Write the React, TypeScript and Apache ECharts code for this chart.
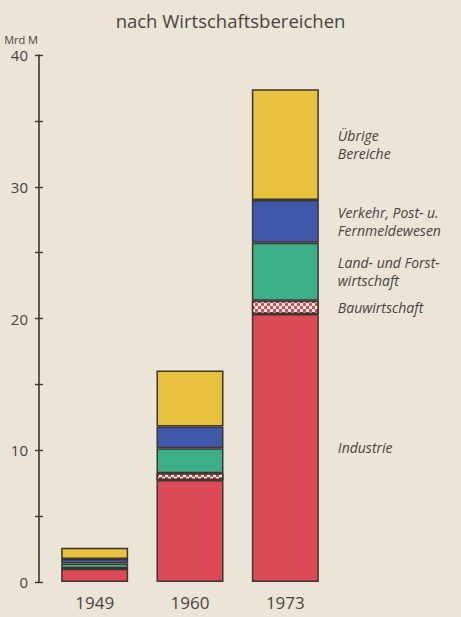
import React, { useEffect, useRef } from "react";
import * as echarts from "echarts";

const years = ["1949", "1960", "1973"];
const industrie = [1.0, 7.75, 20.35];
const bauwirtschaft = [0.05, 0.5, 1.0];
const landForst = [0.35, 1.9, 4.4];
const verkehr = [0.35, 1.65, 3.25];
const uebrige = [0.85, 4.25, 8.4];
const seriesNames = [
  "Industrie",
  "Bauwirtschaft",
  "Land- und Forst-\nwirtschaft",
  "Verkehr, Post- u.\nFernmeldewesen",
  "Übrige\nBereiche",
];
const yTicks = [0, 10, 20, 30, 40];

const FONT = "Open Sans";
const INK = "#4a4242";
const BORDER = "#3e3430";

export default function App() {
  const ref = useRef<HTMLDivElement>(null);
  useEffect(() => {
    if (!ref.current) return;
    const chart = echarts.init(ref.current, undefined, { renderer: "svg" });
    const colors = ["#dc4a58", "#dc4a58", "#3caf88", "#4058aa", "#e8c23e"];
    const values = [industrie, bauwirtschaft, landForst, verkehr, uebrige];
    const series: any[] = values.map((vals, si) => ({
      type: "bar",
      name: seriesNames[si],
      stack: "total",
      barWidth: 67,
      itemStyle: {
        color: colors[si],
        borderColor: BORDER,
        borderWidth: 1.5,
        decal:
          si === 1
            ? {
                symbol: "rect",
                symbolSize: 1,
                color: "#f3eee4",
                dashArrayX: [
                  [3, 3],
                  [0, 3, 3, 0],
                ],
                dashArrayY: [3, 0],
              }
            : "none",
      },
      data: vals.map((v, i) =>
        i === 2
          ? {
              value: v,
              label: {
                show: true,
                position: "right",
                distance: 19,
                formatter: () => seriesNames[si],
                fontFamily: FONT,
                fontStyle: "italic",
                fontSize: 14,
                lineHeight: 18,
                color: INK,
                align: "left",
              },
            }
          : v
      ),
    }));

    chart.setOption({
      animation: false,
      backgroundColor: "#ebe5d7",
      title: {
        text: "nach Wirtschaftsbereichen",
        left: "center",
        top: 6,
        textStyle: { fontFamily: FONT, fontSize: 18.5, fontWeight: "normal", color: INK },
      },
      grid: { left: 47, right: 128, top: 55, bottom: 35, containLabel: false },
      xAxis: {
        type: "category",
        data: years,
        axisLine: { show: false },
        axisTick: { show: false },
        axisLabel: { margin: 12, fontFamily: FONT, fontSize: 17, color: INK },
      },
      yAxis: [
        {
          type: "value",
          min: 0,
          max: 40,
          interval: 5,
          offset: 8,
          name: "Mrd M",
          nameLocation: "end",
          nameGap: 10,
          nameTextStyle: {
            fontFamily: FONT,
            fontSize: 11,
            color: INK,
            align: "right",
            verticalAlign: "bottom",
            padding: [0, 1, 0, 0],
          },
          axisLine: { show: true, lineStyle: { color: BORDER, width: 1.6 } },
          axisTick: { show: true, length: 4, lineStyle: { color: BORDER, width: 1.4 } },
          axisLabel: {
            margin: 11,
            fontFamily: FONT,
            fontSize: 15,
            color: INK,
            formatter: (v: number) => (yTicks.indexOf(v) >= 0 ? String(v) : ""),
          },
          splitLine: { show: false },
        },
        {
          type: "value",
          min: 0,
          max: 40,
          interval: 5,
          position: "left",
          offset: 8,
          axisLine: { show: false },
          axisTick: { show: true, inside: true, length: 4, lineStyle: { color: BORDER, width: 1.4 } },
          axisLabel: { show: false },
          splitLine: { show: false },
        },
      ],
      series,
    });
    return () => chart.dispose();
  }, []);
  return (
    <div
      ref={ref}
      style={{ position: "fixed", left: 0, top: 0, width: 461, height: 617 }}
    />
  );
}
